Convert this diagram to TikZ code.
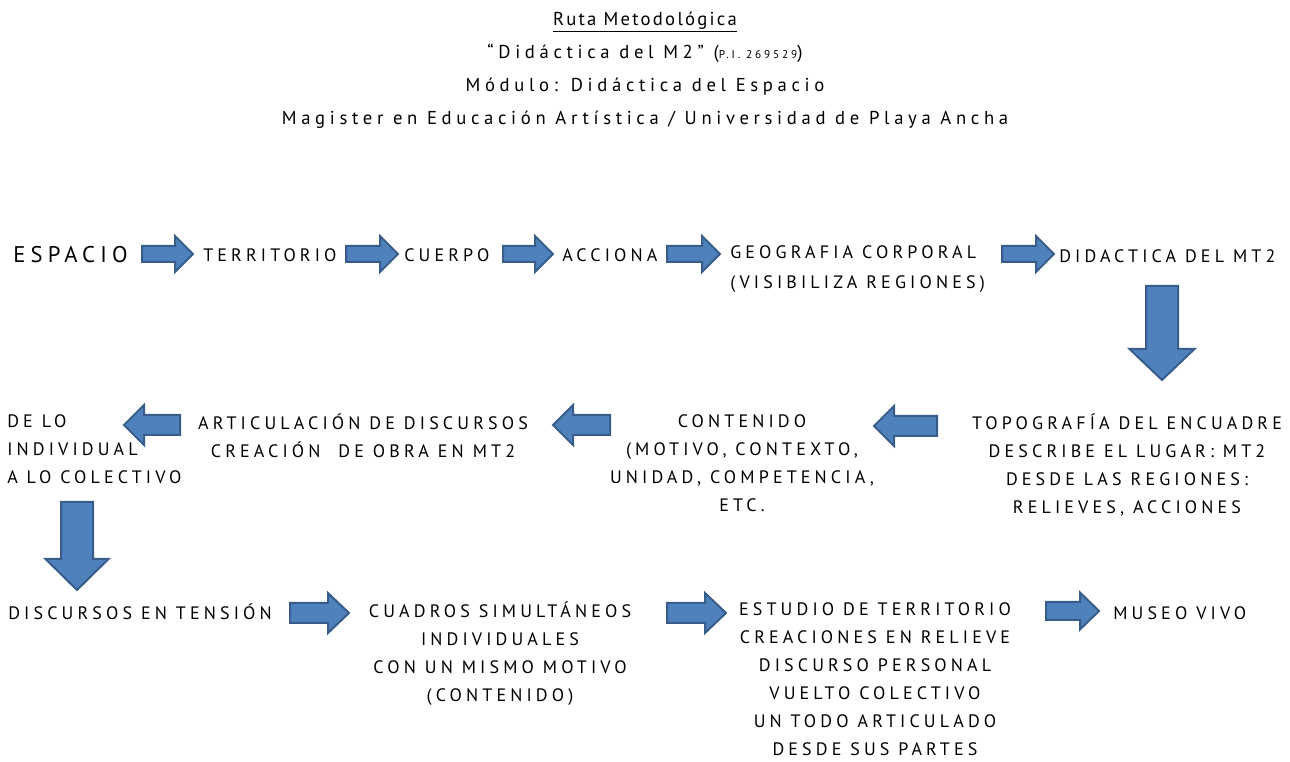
\documentclass[tikz,border=0pt]{standalone}
\usepackage{fontspec}
\setmainfont{PT Sans}[LetterSpace=23]
\newfontfamily\titlefont{PT Sans}[LetterSpace=25]
\newfontfamily\headfont{PT Sans}[LetterSpace=12]
\usetikzlibrary{calc}

\definecolor{arrowfill}{RGB}{79,129,189}
\definecolor{arrowline}{RGB}{56,93,138}

\tikzset{
  txt/.style={inner sep=0pt, align=center, font=\fontsize{13.5}{21}\selectfont,
    execute at begin node={\rule{0pt}{13pt}}},
  blockarrow/.style={fill=arrowfill, draw=arrowline, line width=1.5pt, line join=miter},
  pics/bigarrow/.style n args={4}{code={
    \filldraw[blockarrow] (0,-#2) -- (#1-#4,-#2) -- (#1-#4,-#3) -- (#1,0)
      -- (#1-#4,#3) -- (#1-#4,#2) -- (0,#2) -- cycle;}}
}

\begin{document}
\begin{tikzpicture}[x=0.75pt, y=-0.75pt]
    \useasboundingbox (0,0) rectangle (1290,762);

    % title
    \node[txt, anchor=north, font=\titlefont\fontsize{14}{24.75}\selectfont] (title) at (645,12)
        {{\headfont\underline{Ruta Metodológica}}\\
         “Didáctica del M2” ({\fontsize{8.5}{10}\selectfont P.I. 269529})\\
         Módulo: Didáctica del Espacio\\
         Magister en Educación Artística / Universidad de Playa Ancha};

    % first row
    \node[txt, anchor=base west, font=\fontsize{17}{20}\selectfont] (espacio) at (13,263) {ESPACIO};
    \node[txt, anchor=base west] (territorio) at (203,261.3) {TERRITORIO};
    \node[txt, anchor=base west] (cuerpo) at (404,261.3) {CUERPO};
    \node[txt, anchor=base west] (acciona) at (562,261.3) {ACCIONA};
    \node[txt, anchor=north west, align=left] (geografia) at (730,245)
        {GEOGRAFIA CORPORAL\\[1.5pt](VISIBILIZA REGIONES)};
    \node[txt, anchor=base west] (didactica) at (1059,262.3) {DIDACTICA DEL MT2};

    \pic (a1) at (142,254) {bigarrow={51}{8}{18}{18}};
    \pic (a2) at (346,254) {bigarrow={52}{8}{18}{18}};
    \pic (a3) at (503,254) {bigarrow={50}{8}{18}{18}};
    \pic (a4) at (667,254) {bigarrow={53}{8}{18}{18}};
    \pic (a5) at (1002,254) {bigarrow={52}{8}{18}{18}};
    \pic[rotate=-90] (d1) at (1162,286) {bigarrow={94}{16}{32.5}{31}};

    % second row
    \node[txt, anchor=north west, align=left] (delo) at (7,414)
        {DE LO\\INDIVIDUAL\\A LO COLECTIVO};
    \node[txt, anchor=north] (articulacion) at (363,414)
        {ARTICULACIÓN DE DISCURSOS\\CREACIÓN\ \ DE OBRA EN MT2};
    \node[txt, anchor=north] (contenido) at (742,414)
        {CONTENIDO\\(MOTIVO, CONTEXTO,\\UNIDAD, COMPETENCIA,\\ETC.};
    \node[txt, anchor=north] (topografia) at (1127,414)
        {TOPOGRAFÍA DEL ENCUADRE\\DESCRIBE EL LUGAR: MT2\\DESDE LAS REGIONES:\\RELIEVES, ACCIONES};

    \pic[rotate=180] (l1) at (180,425) {bigarrow={56}{10}{20}{20}};
    \pic[rotate=180] (l2) at (610,425) {bigarrow={57}{10}{20}{20}};
    \pic[rotate=180] (l3) at (937,426) {bigarrow={63}{10}{20}{20}};
    \pic[rotate=-90] (d2) at (77,502) {bigarrow={88}{16}{31.5}{31}};

    % third row
    \node[txt, anchor=base west] (tension) at (8,619.3) {DISCURSOS EN TENSIÓN};
    \node[txt, anchor=north] (cuadros) at (500,602)
        {CUADROS SIMULTÁNEOS\\INDIVIDUALES\\CON UN MISMO MOTIVO\\(CONTENIDO)};
    \node[txt, anchor=north] (estudio) at (875,602)
        {ESTUDIO DE TERRITORIO\\CREACIONES EN RELIEVE\\DISCURSO PERSONAL\\VUELTO COLECTIVO\\UN TODO ARTICULADO\\DESDE SUS PARTES};
    \node[txt, anchor=base west] (museo) at (1113,619.3) {MUSEO VIVO};

    \pic (r1) at (290,613) {bigarrow={59}{10}{20}{21}};
    \pic (r2) at (667,613) {bigarrow={59}{10}{20}{21}};
    \pic (r3) at (1046,611) {bigarrow={53}{9}{18.5}{19}};
\end{tikzpicture}
\end{document}
